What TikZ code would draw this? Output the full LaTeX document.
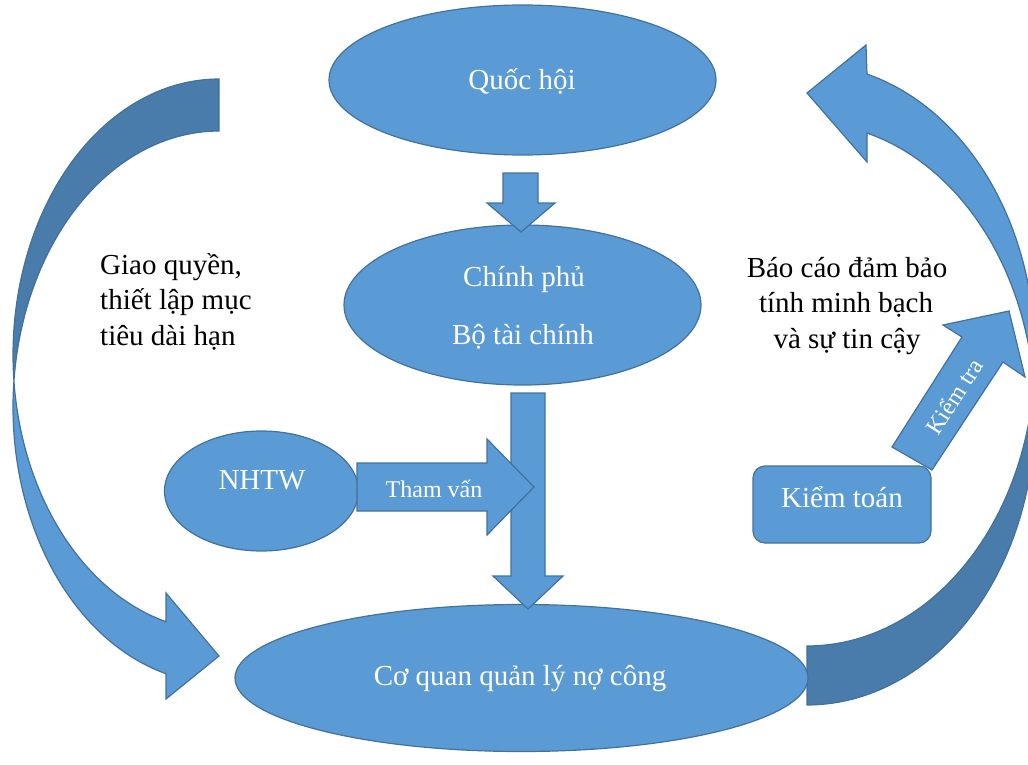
\documentclass[tikz,border=0pt]{standalone}
\usepackage{fontspec}
\setmainfont{Liberation Serif}
\usetikzlibrary{shapes.geometric}
\definecolor{fillC}{HTML}{5B9BD5}
\definecolor{edgeC}{HTML}{41719C}
\definecolor{darkC}{HTML}{497CAA}
\tikzset{
  shp/.style={draw=edgeC, fill=fillC, line width=1.2pt, line join=miter},
  backshp/.style={draw=edgeC, fill=darkC, line width=1.2pt},
  oval/.style={shp, ellipse, inner sep=0pt},
  wtxt/.style={text=white, font=\fontsize{29}{35}\selectfont, text height=24pt, text depth=5pt, inner sep=0pt},
  stxt/.style={text=white, font=\fontsize{24}{28}\selectfont, text height=19.5pt, text depth=4.5pt, inner sep=0pt},
  btxt/.style={text=black, font=\fontsize{29}{35}\selectfont, text height=24pt, text depth=5pt, inner sep=0pt},
}
\begin{document}
\begin{tikzpicture}[x=1pt, y=-1pt]
\useasboundingbox (0,0) rectangle (1028,765);

% left curved arrow (back part, then front part)
\path[backshp] plot[domain=270:174.6, samples=60] ({219+206*cos(\x)},{355+276*sin(\x)})
  -- plot[domain=185.4:270, samples=60] ({219+206*cos(\x)},{407+276*sin(\x)}) -- cycle;
\path[shp] plot[domain=174.6:104.9, samples=60] ({219+206*cos(\x)},{355+276*sin(\x)})
  -- (166,593) -- (219,656) -- (166,699)
  -- plot[domain=104.9:185.4, samples=60] ({219+206*cos(\x)},{407+276*sin(\x)}) -- cycle;

% right curved arrow
\path[backshp] plot[domain=90:-5.82, samples=60] ({807+228*cos(\x)},{413.9+291.1*sin(\x)})
  -- plot[domain=5.82:90, samples=60] ({807+228*cos(\x)},{354.9+291.1*sin(\x)}) -- cycle;
\path[shp] plot[domain=-5.82:-74.74, samples=60] ({807+228*cos(\x)},{413.9+291.1*sin(\x)})
  -- (867,162) -- (807,93) -- (866,45)
  -- plot[domain=-74.74:5.82, samples=60] ({807+228*cos(\x)},{354.9+291.1*sin(\x)}) -- cycle;

% ellipses and box
\node[oval, minimum width=387pt, minimum height=150pt] (qh) at (522.5,80) {};
\node[oval, minimum width=357pt, minimum height=160pt] (cp) at (522.5,305) {};
\node[oval, minimum width=194pt, minimum height=120pt] (nhtw) at (261.5,491) {};
\node[oval, minimum width=573pt, minimum height=147pt] (cq) at (521.5,678) {};
\node[shp, rounded corners=12pt, minimum width=178pt, minimum height=77pt, inner sep=0pt] (kt) at (842,504.5) {};

% block arrows
\path[shp] (503,173) -- (538,173) -- (538,203) -- (555,203) -- (521,232) -- (487,203) -- (503,203) -- cycle;
\path[shp] (511,393) -- (545,393) -- (545,576) -- (563,576) -- (528,609) -- (493,576) -- (511,576) -- cycle;
\path[shp] (357,463) -- (487,463) -- (487,439) -- (534,487) -- (487,535) -- (487,511) -- (357,511) -- cycle;
\path[shp] (892,447) -- (962,337) -- (943,325) -- (1009,311) -- (1025,377) -- (1003,362) -- (932,470) -- cycle;

% texts
\node[wtxt] (tqh) at (522,80) {Quốc hội};
\node[wtxt] (tcp1) at (524,277) {Chính phủ};
\node[wtxt] (tcp2) at (523,335) {Bộ tài chính};
\node[wtxt] (tnh) at (262,480) {NHTW};
\node[stxt] (ttv) at (434,490) {Tham vấn};
\node[wtxt] (tcq) at (520,676) {Cơ quan quản lý nợ công};
\node[wtxt] (tkt) at (842,498) {Kiểm toán};
\node[stxt, rotate=57.5] (tktr) at (955,397) {Kiểm tra};
\node[btxt, anchor=west] (g1) at (100,265) {Giao quyền,};
\node[btxt, anchor=west] (g2) at (100,300) {thiết lập mục};
\node[btxt, anchor=west] (g3) at (100,336) {tiêu dài hạn};
\node[btxt] (b1) at (847,268) {Báo cáo đảm bảo};
\node[btxt] (b2) at (846,303) {tính minh bạch};
\node[btxt] (b3) at (847,339) {và sự tin cậy};
\end{tikzpicture}
\end{document}
